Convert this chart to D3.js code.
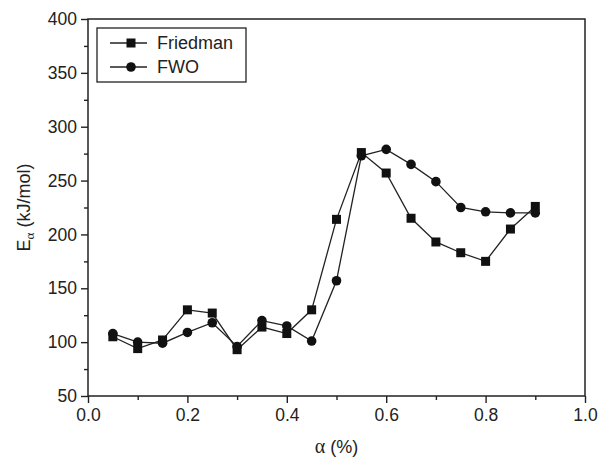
<!DOCTYPE html>
<html>
<head>
<meta charset="utf-8">
<script src="https://d3js.org/d3.v7.min.js"></script>
<style>
  body { margin: 0; background: #fff; }
  text { font-family: "Liberation Sans", Arial, sans-serif; fill: #222; }
</style>
</head>
<body>
<svg id="chart"></svg>
<script>
// conversion (alpha) values
const alpha = [0.05, 0.10, 0.15, 0.20, 0.25, 0.30, 0.35, 0.40, 0.45,
               0.50, 0.55, 0.60, 0.65, 0.70, 0.75, 0.80, 0.85, 0.90];
// activation energies, kJ/mol
const friedman = [105, 94, 102, 130, 127, 93, 114, 108, 130,
                  214, 276, 257, 215, 193, 183, 175, 205, 226];
const fwo = [108, 100, 99, 109, 118, 96, 120, 115, 101,
             157, 273, 279, 265, 249, 225, 221, 220, 220];
const seriesNames = ['Friedman', 'FWO'];
const xTicks = [0, 0.2, 0.4, 0.6, 0.8, 1.0];
const yTicks = [50, 100, 150, 200, 250, 300, 350, 400];

const config = {
  containerWidth: 600,
  containerHeight: 460,
  margin: { top: 19, right: 15, bottom: 64, left: 88 }
};
const width = config.containerWidth - config.margin.left - config.margin.right;
const height = config.containerHeight - config.margin.top - config.margin.bottom;
const ink = '#222';

const svg = d3.select('#chart')
  .attr('width', config.containerWidth)
  .attr('height', config.containerHeight);

const chartArea = svg.append('g')
  .attr('transform', `translate(${config.margin.left},${config.margin.top})`);

const xScale = d3.scaleLinear().domain([0, 1]).range([0, width]);
const yScale = d3.scaleLinear().domain([50, 400]).range([height, 0]);

// minor ticks first, then major ticks with labels
chartArea.append('g')
  .attr('transform', `translate(0,${height})`)
  .call(d3.axisBottom(xScale).tickValues(d3.range(0.1, 1, 0.2)).tickSize(4).tickFormat(''))
  .call(g => g.select('.domain').remove());
chartArea.append('g')
  .call(d3.axisLeft(yScale).tickValues(d3.range(75, 400, 50)).tickSize(4).tickFormat(''))
  .call(g => g.select('.domain').remove());

const xAxisG = chartArea.append('g')
  .attr('transform', `translate(0,${height})`)
  .call(d3.axisBottom(xScale).tickValues(xTicks).tickSize(7).tickPadding(6).tickFormat(d3.format('.1f')));
const yAxisG = chartArea.append('g')
  .call(d3.axisLeft(yScale).tickValues(yTicks).tickSize(7).tickPadding(4).tickFormat(d3.format('d')));

[xAxisG, yAxisG].forEach(g => {
  g.selectAll('text').attr('font-size', 17.5).style('fill', ink)
    .attr('font-family', '"Liberation Sans", Arial, sans-serif');
  g.select('.domain').remove();
});
chartArea.selectAll('.tick line').attr('stroke', ink).attr('stroke-width', 1.4);

// frame
chartArea.append('rect')
  .attr('width', width)
  .attr('height', height)
  .attr('fill', 'none')
  .attr('stroke', ink)
  .attr('stroke-width', 1.5);

// axis titles
const xTitle = chartArea.append('text')
  .attr('x', width / 2)
  .attr('y', height + 57)
  .attr('text-anchor', 'middle')
  .attr('font-size', 18);
xTitle.append('tspan').attr('font-family', '"Liberation Serif", serif').attr('font-size', 20).text('α');
xTitle.append('tspan').text(' (%)');

const yTitle = chartArea.append('text')
  .attr('transform', 'rotate(-90)')
  .attr('x', -height / 2)
  .attr('y', -58)
  .attr('text-anchor', 'middle')
  .attr('font-size', 18);
yTitle.append('tspan').text('E');
yTitle.append('tspan').attr('font-family', '"Liberation Serif", serif').attr('font-size', 13).attr('dy', 4).text('α');
yTitle.append('tspan').attr('dy', -4).text(' (kJ/mol)');

// series
const series = [
  { name: seriesNames[0], values: friedman, marker: 'square' },
  { name: seriesNames[1], values: fwo, marker: 'circle' }
];

const line = d3.line()
  .x((d, i) => xScale(alpha[i]))
  .y(d => yScale(d));

function drawMarker(sel, type) {
  if (type === 'square') {
    sel.append('rect')
      .attr('x', -4.5).attr('y', -4.5)
      .attr('width', 9).attr('height', 9)
      .attr('fill', '#111');
  } else {
    sel.append('circle').attr('r', 4.8).attr('fill', '#111');
  }
}

series.forEach(s => {
  chartArea.append('path')
    .datum(s.values)
    .attr('d', line)
    .attr('fill', 'none')
    .attr('stroke', ink)
    .attr('stroke-width', 1.3);
});

series.forEach(s => {
  chartArea.selectAll(`.pt-${s.marker}`)
    .data(s.values)
    .join('g')
    .attr('class', `pt-${s.marker}`)
    .attr('transform', (d, i) => `translate(${xScale(alpha[i])},${yScale(d)})`)
    .each(function () { drawMarker(d3.select(this), s.marker); });
});

// legend
const legend = svg.append('g').attr('transform', 'translate(97,28)');
legend.append('rect')
  .attr('width', 149)
  .attr('height', 54)
  .attr('fill', '#fff')
  .attr('stroke', ink)
  .attr('stroke-width', 1.3);

series.forEach((s, i) => {
  const row = legend.append('g').attr('transform', `translate(0,${15 + i * 24})`);
  row.append('line')
    .attr('x1', 13).attr('x2', 50)
    .attr('stroke', ink).attr('stroke-width', 1.3);
  const m = row.append('g').attr('transform', 'translate(34,0)');
  drawMarker(m, s.marker);
  row.append('text')
    .attr('x', 60)
    .attr('dy', '0.35em')
    .attr('font-size', 18)
    .text(s.name);
});
</script>
</body>
</html>
